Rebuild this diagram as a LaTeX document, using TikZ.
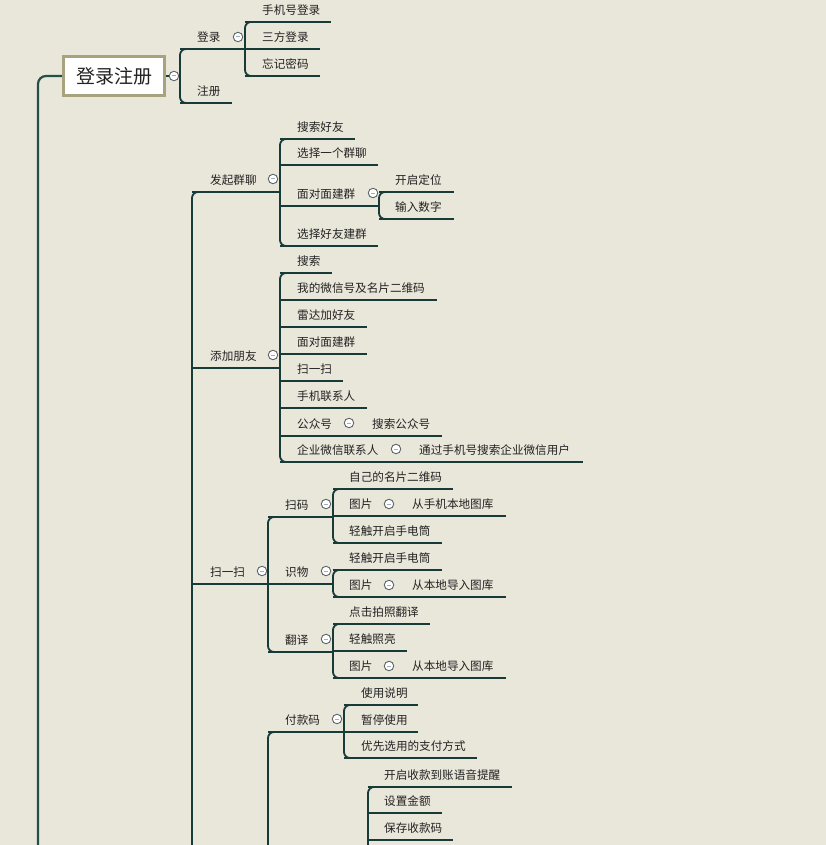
\documentclass[tikz,border=0pt]{standalone}
\usepackage{fontspec}
\newfontfamily\cjk{Noto Sans CJK SC}
\definecolor{bg}{HTML}{E9E6DA}
\definecolor{ln}{HTML}{163B39}
\definecolor{trk}{HTML}{24504C}
\definecolor{boxc}{HTML}{A8A27F}
\definecolor{tx}{HTML}{222222}
\definecolor{cir}{HTML}{5E6666}
\definecolor{dashc}{HTML}{9AB0C8}
\tikzset{
 txt/.style={anchor=west, inner sep=0pt, text=tx, font=\cjk\fontsize{11.6}{13}\selectfont},
 ul/.style={draw=ln, line width=1.8pt},
 br/.style={draw=ln, line width=1.8pt, rounded corners=6pt},
 trunk/.style={draw=trk, line width=2.2pt, rounded corners=8pt},
 tog/.style={circle, draw=cir, fill=white, minimum size=9.5pt, inner sep=0pt, line width=0.9pt,
   path picture={\draw[dashc,line width=1pt] ([xshift=-2.3pt]path picture bounding box.center) -- ([xshift=2.3pt]path picture bounding box.center);}},
 rootbox/.style={draw=boxc, line width=3pt, fill=white, minimum width=101pt, minimum height=39pt, inner sep=0pt, text=tx, font=\cjk\fontsize{19}{21}\selectfont},
}
% name, bracket x, underline y, text x, end x, text
\newcommand{\leaf}[6]{%
  \coordinate (#1s) at (#2,#3);
  \coordinate (#1e) at (#5,#3);
  \node[txt] (#1) at (#4,#3-12) {#6};
  \draw[ul] (#1s) -- (#1e);
}
\begin{document}
\begin{tikzpicture}[x=1pt,y=-1pt]
\fill[bg] (0,0) rectangle (826,845);
\useasboundingbox (0,0) rectangle (826,845);
\clip (0,0) rectangle (826,845);

% ---------- root ----------
\node[rootbox] (root) at (114,76) {登录注册};
\coordinate (trunkbot) at (38,870);
\draw[trunk] (root.west) -- (38,76) -- (trunkbot);
\coordinate (rb) at (180,76);
\draw[ul] (root.east) -- (rb);
\draw[br] (190,49) -- (180,49) -- (180,103) -- (190,103);
\leaf{dl}{180}{49}{197}{245}{登录}
\leaf{zc}{180}{103}{197}{232}{注册}
\draw[br] (255,22) -- (245,22) -- (245,76) -- (255,76);
\leaf{a1}{245}{22}{262}{331}{手机号登录}
\leaf{a2}{245}{49}{262}{320}{三方登录}
\leaf{a3}{245}{76}{262}{320}{忘记密码}
\node[tog] (c0) at (174,76) {};
\node[tog] (c1) at (238,37) {};

% ---------- second trunk ----------
\coordinate (t2bot) at (192,870);
\draw[br] (202,192) -- (192,192) -- (t2bot);

% 发起群聊
\leaf{fq}{192}{192}{210}{280}{发起群聊}
\node[tog] (c2) at (273,179) {};
\draw[br] (290,139) -- (280,139) -- (280,246) -- (290,246);
\leaf{b1}{280}{139}{297}{355}{搜索好友}
\leaf{b2}{280}{165}{297}{378}{选择一个群聊}
\leaf{b3}{280}{206}{297}{379}{面对面建群}
\leaf{b4}{280}{246}{297}{378}{选择好友建群}
\node[tog] (c3) at (373,193) {};
\draw[br] (389,192) -- (379,192) -- (379,219) -- (389,219);
\leaf{b31}{379}{192}{395}{454}{开启定位}
\leaf{b32}{379}{219}{395}{454}{输入数字}

% 添加朋友
\leaf{tj}{192}{368}{210}{280}{添加朋友}
\node[tog] (c4) at (273,355) {};
\draw[br] (290,273) -- (280,273) -- (280,462) -- (290,462);
\leaf{d1}{280}{273}{297}{332}{搜索}
\leaf{d2}{280}{300}{297}{437}{我的微信号及名片二维码}
\leaf{d3}{280}{327}{297}{367}{雷达加好友}
\leaf{d4}{280}{354}{297}{367}{面对面建群}
\leaf{d5}{280}{381}{297}{343}{扫一扫}
\leaf{d6}{280}{408}{297}{367}{手机联系人}
\leaf{d7}{280}{436}{297}{442}{公众号}
\node[txt] (d71) at (372,424) {搜索公众号};
\node[tog] (c5) at (349,423) {};
\leaf{d8}{280}{462}{297}{583}{企业微信联系人}
\node[txt] (d81) at (419,450) {通过手机号搜索企业微信用户};
\node[tog] (c6) at (396,449) {};

% 扫一扫
\leaf{ss}{192}{584}{210}{268}{扫一扫}
\node[tog] (c7) at (262,571) {};
\draw[br] (278,517) -- (268,517) -- (268,652) -- (278,652);
\leaf{e1}{268}{517}{285}{333}{扫码}
\node[tog] (c8) at (326,504) {};
\draw[br] (343,489) -- (333,489) -- (333,543) -- (343,543);
\leaf{e11}{333}{489}{349}{453}{自己的名片二维码}
\leaf{e12}{333}{516}{349}{506}{图片}
\node[txt] (e121) at (412,504) {从手机本地图库};
\node[tog] (c9) at (389,504) {};
\leaf{e13}{333}{543}{349}{442}{轻触开启手电筒}

\leaf{e2}{268}{584}{285}{333}{识物}
\node[tog] (c10) at (326,571) {};
\draw[br] (343,570) -- (333,570) -- (333,597) -- (343,597);
\leaf{e21}{333}{570}{349}{442}{轻触开启手电筒}
\leaf{e22}{333}{597}{349}{506}{图片}
\node[txt] (e221) at (412,585) {从本地导入图库};
\node[tog] (c11) at (389,585) {};

\leaf{e3}{268}{652}{285}{333}{翻译}
\node[tog] (c12) at (326,639) {};
\draw[br] (343,624) -- (333,624) -- (333,678) -- (343,678);
\leaf{e31}{333}{624}{349}{430}{点击拍照翻译}
\leaf{e32}{333}{651}{349}{407}{轻触照亮}
\leaf{e33}{333}{678}{349}{506}{图片}
\node[txt] (e331) at (412,666) {从本地导入图库};
\node[tog] (c13) at (389,666) {};

% 付款码
\coordinate (t3bot) at (268,870);
\draw[br] (278,732) -- (268,732) -- (t3bot);
\leaf{f1}{268}{732}{285}{344}{付款码}
\node[tog] (c14) at (337,719) {};
\draw[br] (354,705) -- (344,705) -- (344,758) -- (354,758);
\leaf{f11}{344}{705}{361}{418}{使用说明}
\leaf{f12}{344}{732}{361}{418}{暂停使用}
\leaf{f13}{344}{758}{361}{477}{优先选用的支付方式}

\coordinate (t4bot) at (368,870);
\draw[br] (378,787) -- (368,787) -- (t4bot);
\leaf{g1}{368}{787}{384}{512}{开启收款到账语音提醒}
\leaf{g2}{368}{813}{384}{442}{设置金额}
\leaf{g3}{368}{840}{384}{453}{保存收款码}
\end{tikzpicture}
\end{document}
